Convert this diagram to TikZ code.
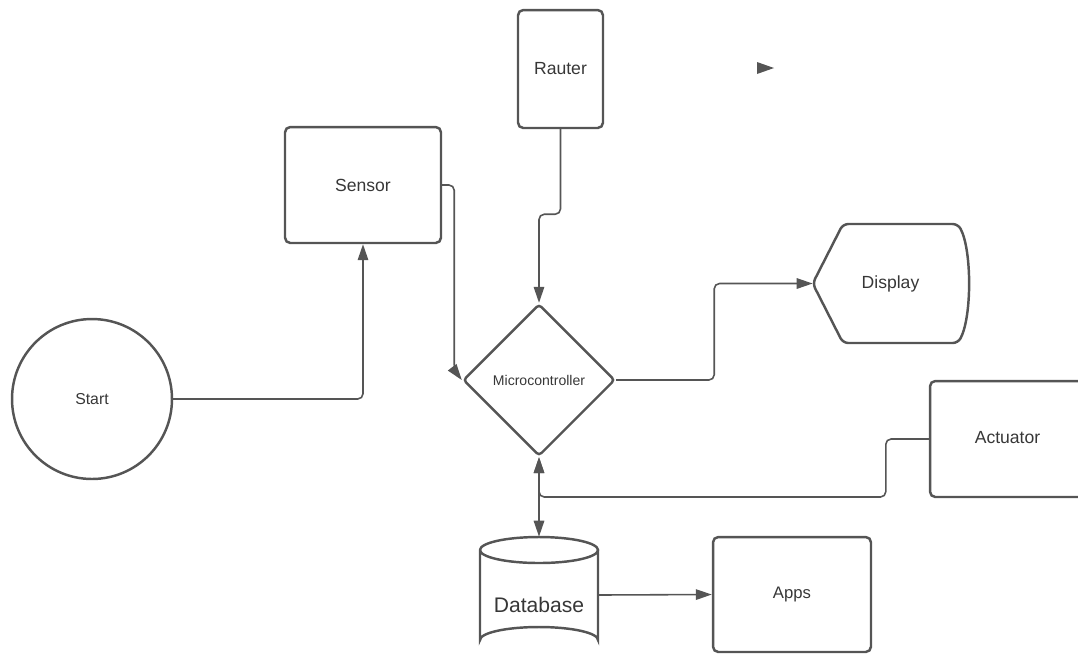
\documentclass[tikz,border=0pt]{standalone}
\usepackage{fontspec}
\setmainfont{Liberation Sans}
\usetikzlibrary{shapes.geometric,arrows.meta}
\definecolor{linegray}{RGB}{85,85,85}
\definecolor{textgray}{RGB}{55,55,55}
\tikzset{
  box/.style={draw=linegray, line width=1.4pt, rounded corners=3pt, text=textgray, inner sep=0pt},
  flow/.style={draw=linegray, line width=0.9pt, rounded corners=3pt, -{Triangle[length=0.32cm,width=0.21cm]}},
}
\begin{document}
\begin{tikzpicture}[x=0.02cm, y=-0.02cm]
  \useasboundingbox (0,0) rectangle (1078,654);
  \clip (0,0) rectangle (1078,654);
  \draw
    (92,399) node[box, circle, minimum size=3.2cm, font=\fontsize{9}{11}\selectfont] (start){Start}
    (363,185) node[box, minimum width=3.12cm, minimum height=2.32cm, font=\fontsize{10}{12}\selectfont] (sensor){Sensor}
    (560.5,69) node[box, minimum width=1.7cm, minimum height=2.36cm, font=\fontsize{10}{12}\selectfont] (rauter){Rauter}
    (539,380) node[box, diamond, rounded corners=2pt, minimum size=3.04cm, font=\fontsize{8}{10}\selectfont] (mc){Microcontroller}
    (890.5,283.5) node[inner sep=0pt, minimum width=3.1cm, minimum height=2.38cm, text=textgray, font=\fontsize{10}{12}\selectfont] (display){Display}
    (1007.5,439) node[box, minimum width=3.1cm, minimum height=2.32cm, font=\fontsize{10}{12}\selectfont] (actuator){\raisebox{0.06cm}{Actuator}}
    (539,595) node[inner sep=0pt, minimum width=2.36cm, minimum height=2.32cm, text=textgray, font=\fontsize{12}{14}\selectfont] (db){\raisebox{-0.35cm}[0pt][0pt]{Database}}
    (792,594.5) node[box, minimum width=3.16cm, minimum height=2.3cm, font=\fontsize{9.5}{11}\selectfont] (apps){\raisebox{0.04cm}{Apps}};
  % outlines drawn by hand
  \draw[linegray, line width=1.4pt, rounded corners=3pt]
    (display.west) -- (843,224) -- (958,224)
    .. controls (972,250) and (972,317) .. (958,343) -- (843,343) -- cycle;
  \draw[linegray, line width=1.4pt]
    (480,550) arc[start angle=180, end angle=360, x radius=59, y radius=-13]
    arc[start angle=0, end angle=180, x radius=59, y radius=-13]
    -- (480,640) arc[start angle=180, end angle=360, x radius=59, y radius=13]
    -- (598,550);
  \fill[linegray] (757,62) -- (774,68) -- (757,74) -- cycle;
  \begin{scope}[flow]
    \draw (start.east) -| (sensor.south);
    \draw (sensor.east) -- ++(12,0) -- ++(0,185) -- (mc.west);
    \draw (rauter.south) -- ++(0,85) -| (mc.north);
    \draw (mc.east) -- ++(98,0) |- (display.west);
    \draw (actuator.west) -- ++(-43,0) -- ++(0,58) -| (mc.south);
    \draw[{Triangle[length=0.32cm,width=0.21cm]}-{Triangle[length=0.32cm,width=0.21cm]}] (mc.south) -- (db.north);
    \draw (db.east) -- (apps.west);
  \end{scope}
\end{tikzpicture}
\end{document}
